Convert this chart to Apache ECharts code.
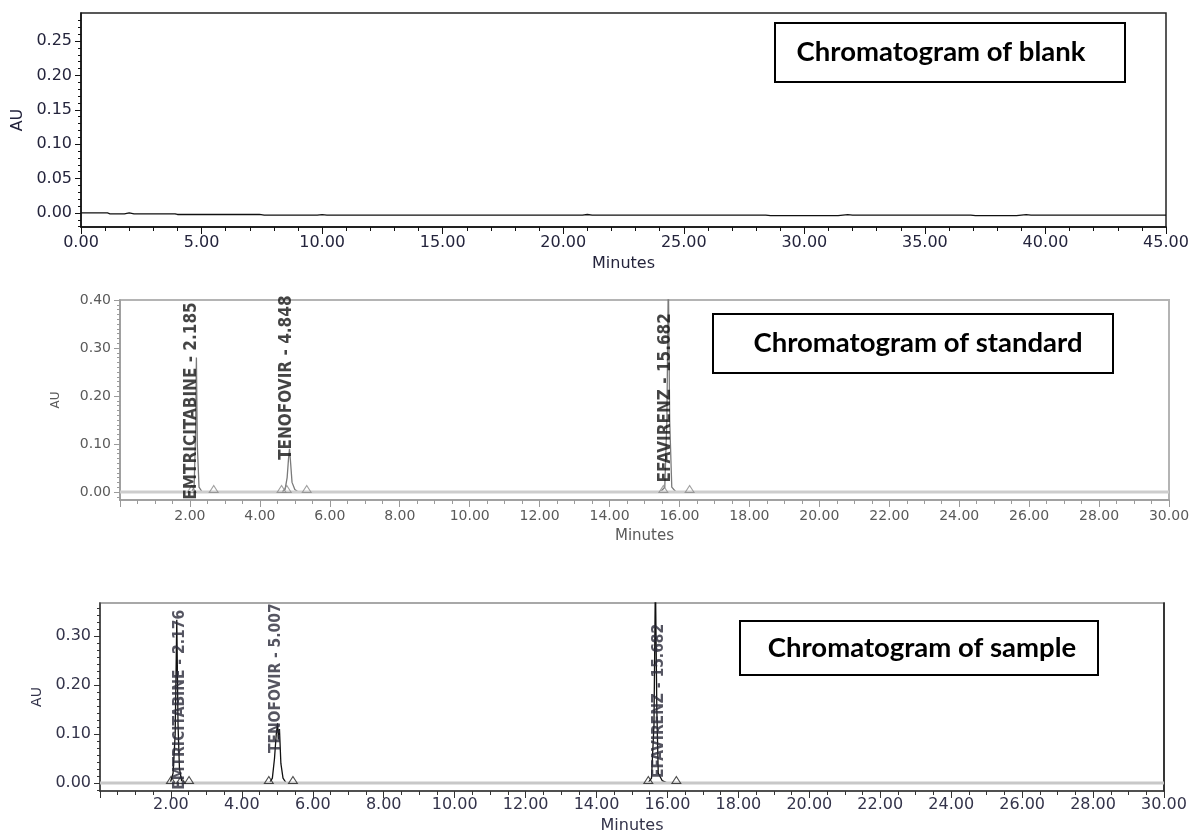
<!DOCTYPE html>
<html><head><meta charset="utf-8">
<script src="https://cdn.jsdelivr.net/npm/echarts@6/dist/echarts.min.js"></script>
<style>html,body{margin:0;padding:0;background:#fff}#c{width:1193px;height:833px}</style>
</head><body><div id="c"></div>
<script>
// ---------- Blank chromatogram ----------
const blankTime = [0, 1.1, 1.2, 1.8, 2.0, 2.2, 3.9, 4.0, 7.4, 7.6, 9.8, 10.0, 10.2, 14, 18, 20.8, 21.0, 21.2, 24, 28.4, 28.6, 31.4, 31.6, 31.8, 32.0, 36.9, 37.1, 38.8, 39.0, 39.2, 39.4, 45];
const blankAU   = [0, 0, -0.0012, -0.0012, 0.0002, -0.0012, -0.0012, -0.0022, -0.0022, -0.0032, -0.0032, -0.0025, -0.0032, -0.0032, -0.003, -0.003, -0.0022, -0.003, -0.003, -0.003, -0.004, -0.004, -0.003, -0.0025, -0.003, -0.003, -0.004, -0.004, -0.003, -0.0025, -0.003, -0.003];
const blankYTicks = [0, 0.05, 0.10, 0.15, 0.20, 0.25];

// ---------- Standard chromatogram ----------
const stdTime = [0, 2.05, 2.12, 2.16, 2.185, 2.21, 2.26, 2.35, 4.62, 4.72, 4.78, 4.82, 4.848, 4.88, 4.92, 5.0, 5.1, 15.45, 15.58, 15.64, 15.682, 15.72, 15.78, 15.9, 30];
const stdAU   = [0, 0, 0.01, 0.12, 0.28, 0.10, 0.01, 0, 0, 0.005, 0.03, 0.07, 0.09, 0.06, 0.02, 0.005, 0, 0, 0.01, 0.15, 0.45, 0.15, 0.01, 0, 0];
const stdMarkTime = [2.05, 2.68, 4.62, 4.77, 5.34, 15.54, 16.29];
const stdLabels = ['EMTRICITABINE - 2.185', 'TENOFOVIR - 4.848', 'EFAVIRENZ - 15.682'];
const stdLabelTime = [2.06, 4.77, 15.6];
const stdLabelBase = [-0.016, 0.067, 0.02];
const stdYTicks = [0, 0.10, 0.20, 0.30, 0.40];

// ---------- Sample chromatogram ----------
const smpTime = [0, 1.98, 2.06, 2.12, 2.165, 2.20, 2.24, 2.30, 2.40, 4.78, 4.86, 4.92, 4.97, 5.007, 5.03, 5.06, 5.10, 5.16, 5.25, 15.45, 15.55, 15.62, 15.66, 15.70, 15.74, 15.85, 16.0, 30];
const smpAU   = [0, 0, 0.02, 0.10, 0.333, 0.12, 0.03, 0.005, 0, 0, 0.01, 0.05, 0.10, 0.122, 0.09, 0.11, 0.04, 0.01, 0, 0, 0.01, 0.12, 0.42, 0.15, 0.02, 0.005, 0, 0];
const smpMarkTime = [2.0, 2.28, 2.51, 4.76, 5.44, 15.46, 16.25];
const smpLabels = ['EMTRICITABINE - 2.176', 'TENOFOVIR - 5.007', 'EFAVIRENZ - 15.682'];
const smpLabelTime = [2.25, 4.96, 15.77];
const smpLabelBase = [-0.014, 0.061, 0.01];
const smpYTicks = [0, 0.10, 0.20, 0.30];

const titles = ['Chromatogram of blank', 'Chromatogram of standard', 'Chromatogram of sample'];

// ---------- helpers ----------
const FONT = 'DejaVu Sans';
const PEAKFONT = "'DejaVu Sans Condensed',sans-serif";
const zip = (a, b) => a.map((v, i) => [v, b[i]]);
function steps(from, count, step) { const r = []; for (let k = 0; k < count; k++) r.push(+(from + k * step).toFixed(5)); return r; }

function yMajor(gi, min, max, ticks, fs, color, lc, gap, nfs) {
  return {type: 'value', gridIndex: gi, position: 'left', min, max,
    name: 'AU', nameLocation: 'middle', nameGap: gap, nameRotate: 90,
    nameTextStyle: {fontFamily: FONT, fontSize: nfs, color},
    axisLine: {show: true, onZero: false, lineStyle: {color: lc, width: 1.5}},
    axisTick: {show: true, length: 6, customValues: ticks, lineStyle: {color: lc}},
    axisLabel: {show: true, customValues: ticks, margin: 9, formatter: v => v.toFixed(2), fontFamily: FONT, fontSize: fs, color},
    splitLine: {show: false}};
}
function yMinor(gi, min, max, ticks, lc) {
  return {type: 'value', gridIndex: gi, position: 'left', min, max,
    axisLine: {show: false}, axisLabel: {show: false}, splitLine: {show: false},
    axisTick: {show: true, length: 3, customValues: ticks, lineStyle: {color: lc}}};
}
function xAx(gi, max, interval, minorSplit, fs, color, lc, margin, gap, nfs, hideZero) {
  return {type: 'value', gridIndex: gi, min: 0, max, interval,
    name: 'Minutes', nameLocation: 'middle', nameGap: gap,
    nameTextStyle: {fontFamily: FONT, fontSize: nfs, color},
    axisLine: {show: true, onZero: false, lineStyle: {color: lc, width: 1.5}},
    axisTick: {show: true, length: 7, lineStyle: {color: lc}},
    minorTick: {show: true, splitNumber: minorSplit, length: 4, lineStyle: {color: lc}},
    axisLabel: {margin, fontFamily: FONT, fontSize: fs, color,
      formatter: v => (hideZero && v === 0) ? '' : v.toFixed(2)},
    splitLine: {show: false}, minorSplitLine: {show: false}};
}
function markers(xi, yi, times, color) {
  return {type: 'scatter', xAxisIndex: xi, yAxisIndex: yi, z: 5, silent: true,
    data: times.map(t => [t, 0]), symbol: 'triangle', symbolSize: [9, 7], symbolOffset: [0, -3],
    itemStyle: {color: 'rgba(0,0,0,0)', borderColor: color, borderWidth: 1}};
}
function peakLabels(xi, yi, times, bases, names, fs, color) {
  return {type: 'scatter', xAxisIndex: xi, yAxisIndex: yi, z: 6, silent: true, symbolSize: 0,
    data: times.map((t, i) => ({value: [t, bases[i]], name: names[i]})),
    label: {show: true, formatter: '{b}', rotate: 90, position: 'inside', align: 'left', verticalAlign: 'middle',
      fontFamily: PEAKFONT, fontWeight: 'bold', fontSize: fs, color}};
}

const chart = echarts.init(document.getElementById('c'), null, {renderer: 'canvas'});
const option = {
  animation: false,
  backgroundColor: '#fff',
  grid: [
    {left: 81, top: 13, width: 1085, height: 214, show: true, borderColor: '#222', borderWidth: 1.5, outerBoundsMode: 'none'},
    {left: 120, top: 300, width: 1049, height: 200, show: true, borderColor: '#b4b4b4', borderWidth: 2, outerBoundsMode: 'none'},
    {left: 100, top: 603, width: 1064, height: 188, show: true, borderColor: '#a8a8a8', borderWidth: 2, outerBoundsMode: 'none'}
  ],
  xAxis: [
    xAx(0, 45, 5, 5, 16, '#24243c', '#111', 8, 29, 16, false),
    xAx(1, 30, 2, 4, 14, '#5a5a5a', '#9a9a9a', 9, 29, 15, true),
    xAx(2, 30, 2, 4, 16, '#33334a', '#333', 6, 27, 16, true)
  ],
  yAxis: [
    yMajor(0, -0.0204, 0.2907, blankYTicks, 16, '#24243c', '#111', 54, 16),
    yMinor(0, -0.0204, 0.2907, steps(-0.02, 31, 0.01), '#111'),
    yMajor(1, -0.0167, 0.40, stdYTicks, 14, '#5a5a5a', '#9a9a9a', 58, 12),
    yMinor(1, -0.0167, 0.40, steps(-0.01, 41, 0.01), '#9a9a9a'),
    yMajor(2, -0.0163, 0.3673, smpYTicks, 16, '#33334a', '#333', 56, 14),
    yMinor(2, -0.0163, 0.3673, steps(-0.1 / 7, 27, 0.1 / 7), '#333'),
    {type: 'value', gridIndex: 2, position: 'right', min: -0.0163, max: 0.3673,
      axisLine: {show: true, onZero: false, lineStyle: {color: '#111', width: 1.5}},
      axisTick: {show: false}, axisLabel: {show: false}, splitLine: {show: false}}
  ],
  series: [
    {type: 'line', xAxisIndex: 0, yAxisIndex: 0, data: zip(blankTime, blankAU), showSymbol: false, silent: true,
      lineStyle: {color: '#111', width: 1.3}},
    {type: 'line', xAxisIndex: 1, yAxisIndex: 2, data: zip(stdTime, stdAU), showSymbol: false, silent: true, clip: true,
      lineStyle: {color: '#7a7a7a', width: 1.3}},
    {type: 'line', xAxisIndex: 1, yAxisIndex: 2, z: 3, data: [[0, 0], [30, 0]], showSymbol: false, silent: true,
      lineStyle: {color: '#cdcdcd', width: 3}},
    markers(1, 2, stdMarkTime, '#8a8a8a'),
    peakLabels(1, 2, stdLabelTime, stdLabelBase, stdLabels, 17, '#151515'),
    {type: 'line', xAxisIndex: 2, yAxisIndex: 4, data: zip(smpTime, smpAU), showSymbol: false, silent: true, clip: true,
      lineStyle: {color: '#111', width: 1.3}},
    {type: 'line', xAxisIndex: 2, yAxisIndex: 4, z: 3, data: [[0, 0], [30, 0]], showSymbol: false, silent: true,
      lineStyle: {color: '#c8c8c8', width: 3}},
    markers(2, 4, smpMarkTime, '#222'),
    peakLabels(2, 4, smpLabelTime, smpLabelBase, smpLabels, 15.5, '#2a2a3a')
  ],
  graphic: [
    {type: 'rect', shape: {x: 775, y: 23, width: 350, height: 59}, style: {fill: '#fff', stroke: '#000', lineWidth: 2}, z: 10},
    {type: 'text', x: 941, y: 52.5, z: 11, style: {text: titles[0], font: '700 27.5px Lato', fill: '#000', align: 'center', verticalAlign: 'middle'}},
    {type: 'rect', shape: {x: 713, y: 314, width: 400, height: 59}, style: {fill: '#fff', stroke: '#000', lineWidth: 2}, z: 10},
    {type: 'text', x: 918, y: 343.5, z: 11, style: {text: titles[1], font: '700 27.5px Lato', fill: '#000', align: 'center', verticalAlign: 'middle'}},
    {type: 'rect', shape: {x: 740, y: 621, width: 358, height: 54}, style: {fill: '#fff', stroke: '#000', lineWidth: 2}, z: 10},
    {type: 'text', x: 922, y: 648, z: 11, style: {text: titles[2], font: '700 27.5px Lato', fill: '#000', align: 'center', verticalAlign: 'middle'}}
  ]
};
chart.setOption(option);
</script></body></html>
